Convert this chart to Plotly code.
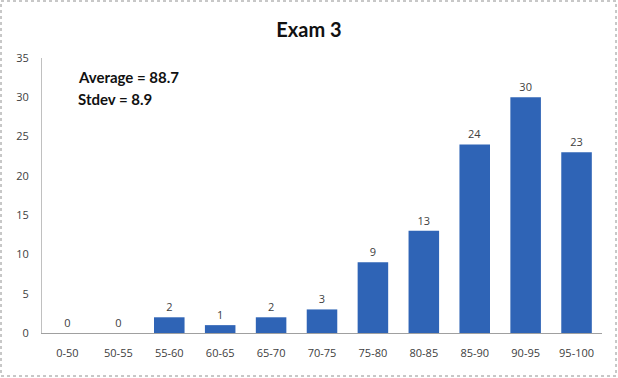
import plotly.graph_objects as go

categories = ["0-50", "50-55", "55-60", "60-65", "65-70", "70-75", "75-80", "80-85", "85-90", "90-95", "95-100"]
counts = [0, 0, 2, 1, 2, 3, 9, 13, 24, 30, 23]
y_ticks = [0, 5, 10, 15, 20, 25, 30, 35]
title_text = "Exam 3"
stats_lines = ["Average = 88.7", "Stdev = 8.9"]

W, H = 618, 378
ml, mr, mt, mb = 42, 16, 58, 45
pw, ph = W - ml - mr, H - mt - mb

fig = go.Figure()
fig.add_trace(go.Bar(
    x=categories, y=counts,
    marker=dict(color="#2f64b6", line=dict(width=0)),
    text=[str(v) for v in counts], textposition="outside",
    textfont=dict(family="Open Sans, Lato, sans-serif", size=11, color="#404040"),
    cliponaxis=False, width=0.6,
))

fig.update_layout(
    width=W, height=H,
    margin=dict(l=ml, r=mr, t=mt, b=mb),
    paper_bgcolor="white", plot_bgcolor="white",
    showlegend=False,
    title=dict(text="<b>" + title_text + "</b>", x=0.5, xanchor="center", y=1 - 30 / H, yanchor="middle",
               font=dict(family="Lato, Open Sans, sans-serif", size=20, color="#111111")),
    xaxis=dict(
        type="category", showgrid=False, showline=True, linecolor="#a0a0a0", linewidth=1,
        ticks="", tickfont=dict(family="Open Sans, Lato, sans-serif", size=11, color="#404040"),
        ticklabelstandoff=10, range=[-0.5, len(categories) - 0.5],
    ),
    yaxis=dict(
        range=[0, 35], tickvals=y_ticks, showgrid=False, zeroline=False,
        showline=True, linecolor="#c0c0c0", linewidth=1, ticks="",
        tickfont=dict(family="Open Sans, Lato, sans-serif", size=11, color="#404040"),
        ticklabelstandoff=10,
    ),
)

for i, line in enumerate(stats_lines):
    fig.add_annotation(
        text="<b>" + line + "</b>", xref="paper", yref="paper",
        x=(76 - ml) / pw, y=1 - (77 + 22 * i - mt) / ph, xanchor="left", yanchor="middle",
        showarrow=False, font=dict(family="Lato, Open Sans, sans-serif", size=15, color="#111111"),
    )

# outer dotted border
fig.add_shape(
    type="rect", xref="paper", yref="paper",
    x0=(1 - ml) / pw, x1=(W - 2 - ml) / pw,
    y0=-(H - 2 - mt - ph) / ph, y1=1 + (mt - 1) / ph,
    line=dict(color="#909090", width=1, dash="dot"), layer="below",
)

fig.write_html("out.html", config={"displayModeBar": False},
               post_script="document.body.style.margin='0';document.body.style.overflow='hidden';")
